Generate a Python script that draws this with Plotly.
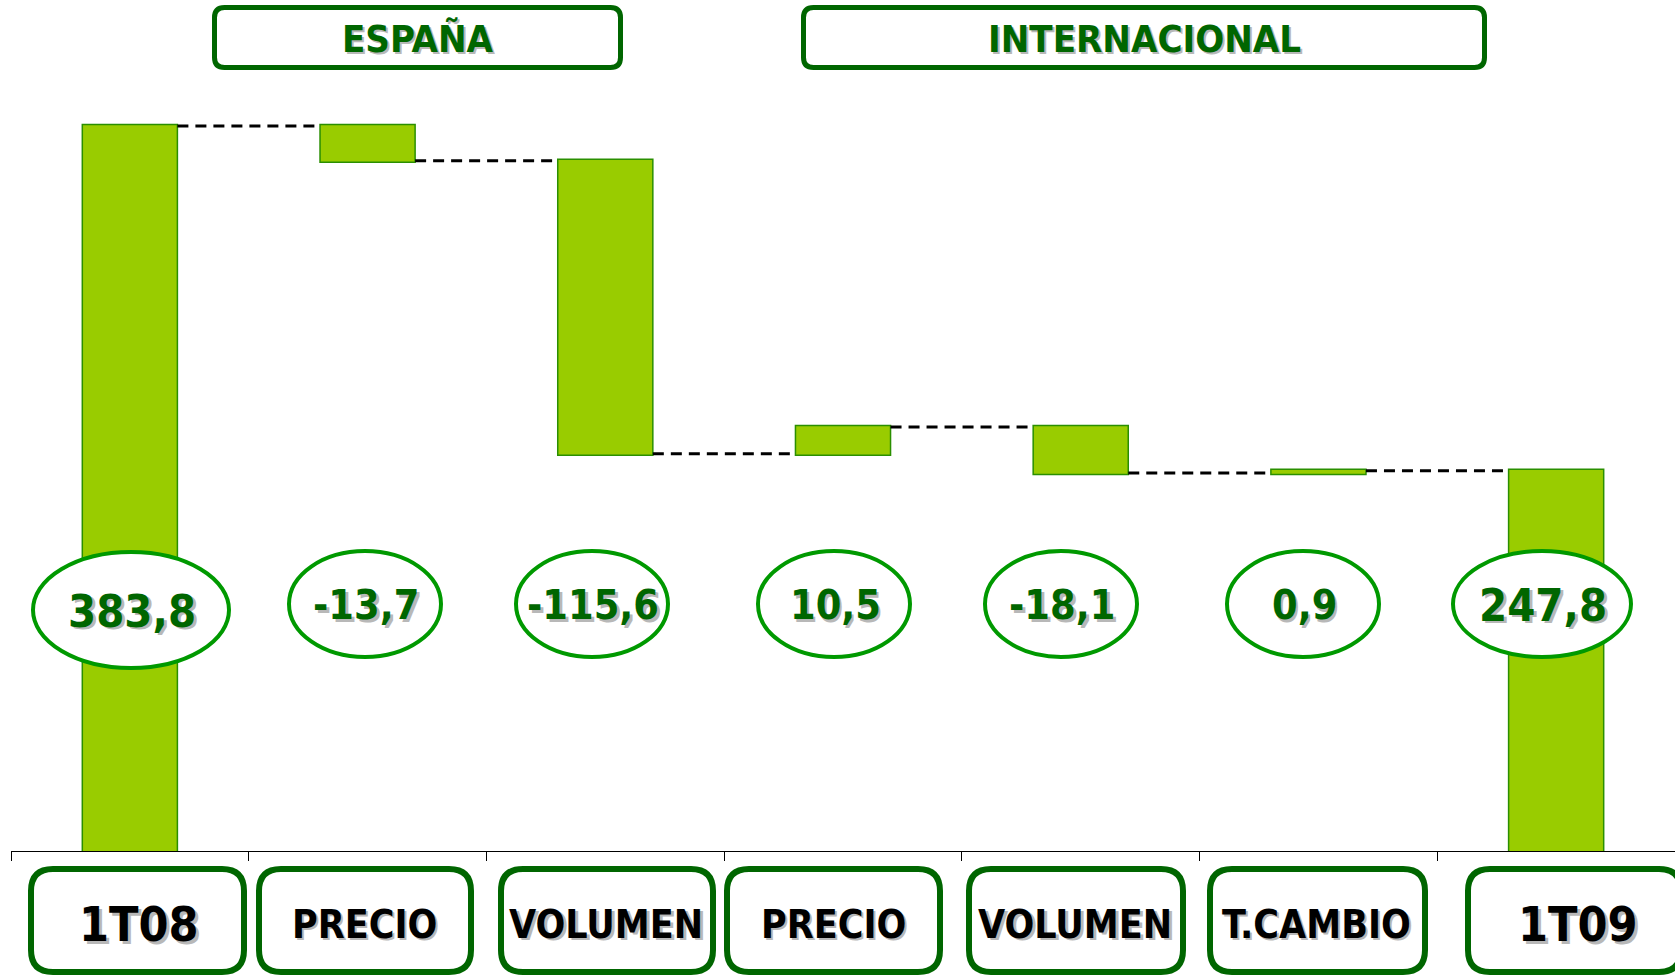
import plotly.graph_objects as go

# ---------------- data ----------------
categories = ["1T08", "PRECIO", "VOLUMEN", "PRECIO", "VOLUMEN", "T.CAMBIO", "1T09"]
values = [383.8, -13.7, -115.6, 10.5, -18.1, 0.9, 247.8]
measures = ["absolute", "relative", "relative", "relative", "relative", "relative", "total"]
group_titles = ["ESPAÑA", "INTERNACIONAL"]

value_labels = [f"{v:.1f}".replace(".", ",") for v in values]
positions = list(range(len(categories)))

# ---------------- layout geometry (pixels) ----------------
W, H = 1675, 976
ML, MR, MT, MB = 11, 0, 20, 125
PW, PH = W - ML - MR, H - MT - MB
BASE_VAL = 97.76
PX_PER_UNIT = 2.5346
Y_TOP = BASE_VAL + PH / PX_PER_UNIT


def xp(px):
    return (px - ML) / PW


def yp(py):
    return (H - MB - py) / PH


def rounded_rect(x0, y0, x1, y1, r):
    """rounded rectangle path in paper coords, given pixel box"""
    X0, X1 = xp(x0), xp(x1)
    Y0, Y1 = yp(y0), yp(y1)  # Y0 top (larger), Y1 bottom
    rx, ry = r / PW, r / PH
    return (
        f"M{X0 + rx},{Y0} L{X1 - rx},{Y0} Q{X1},{Y0} {X1},{Y0 - ry} "
        f"L{X1},{Y1 + ry} Q{X1},{Y1} {X1 - rx},{Y1} "
        f"L{X0 + rx},{Y1} Q{X0},{Y1} {X0},{Y1 + ry} "
        f"L{X0},{Y0 - ry} Q{X0},{Y0} {X0 + rx},{Y0} Z"
    )


FONT = "DejaVu Sans Condensed, DejaVu Sans, Arial Narrow, sans-serif"
DARK_GREEN = "#006600"
ELLIPSE_GREEN = "#009900"
BAR_FILL = "#99CC00"
BAR_LINE = "#2A8F00"

fig = go.Figure()
fig.add_trace(
    go.Waterfall(
        x=positions,
        y=values,
        measure=measures,
        increasing=dict(marker=dict(color=BAR_FILL, line=dict(color=BAR_LINE, width=1.5))),
        decreasing=dict(marker=dict(color=BAR_FILL, line=dict(color=BAR_LINE, width=1.5))),
        totals=dict(marker=dict(color=BAR_FILL, line=dict(color=BAR_LINE, width=1.5))),
        connector=dict(mode="between", line=dict(color="black", width=3, dash="11px,7px")),
        textinfo="none",
        hoverinfo="skip",
        showlegend=False,
    )
)

shapes = []
annotations = []


def add_text(text, cx, cy, size, color, shadow=True):
    if shadow:
        annotations.append(dict(
            x=xp(cx), y=yp(cy), xref="paper", yref="paper", text=text, showarrow=False,
            xanchor="center", yanchor="middle", xshift=2.5, yshift=-2.5,
            font=dict(family=FONT, size=size, color="#B8B8B8", weight="bold"),
        ))
    annotations.append(dict(
        x=xp(cx), y=yp(cy), xref="paper", yref="paper", text=text, showarrow=False,
        xanchor="center", yanchor="middle",
        font=dict(family=FONT, size=size, color=color, weight="bold"),
    ))


# top group boxes
top_boxes = [(212, 5, 623, 70), (801, 5, 1487, 70)]
for title, (x0, y0, x1, y1) in zip(group_titles, top_boxes):
    shapes.append(dict(type="path", xref="paper", yref="paper",
                       path=rounded_rect(x0 + 2.5, y0 + 2.5, x1 - 2.5, y1 - 2.5, 10),
                       line=dict(color=DARK_GREEN, width=5), fillcolor="white", layer="above"))
    add_text(title, (x0 + x1) / 2, 39, 38, DARK_GREEN)

# value ellipses
ellipses = [
    (131, 610, 100, 60),
    (365, 604, 78, 55),
    (592, 604, 78, 55),
    (834, 604, 78, 55),
    (1061, 604, 78, 55),
    (1303, 604, 78, 55),
    (1542, 604, 91, 55),
]
for i, (lab, (cx, cy, rx, ry)) in enumerate(zip(value_labels, ellipses)):
    shapes.append(dict(type="circle", xref="paper", yref="paper",
                       x0=xp(cx - rx + 2), x1=xp(cx + rx - 2), y0=yp(cy + ry - 2), y1=yp(cy - ry + 2),
                       line=dict(color=ELLIPSE_GREEN, width=4), fillcolor="white", layer="above"))
    size = 45 if i in (0, len(values) - 1) else 41
    add_text(lab, cx + 1, cy + 1, size, DARK_GREEN)

# bottom category boxes
bottom_boxes = [(28, 866, 247, 975), (256, 866, 474, 975), (498, 866, 716, 975),
                (724, 866, 943, 975), (966, 866, 1186, 975), (1207, 866, 1428, 975),
                (1465, 866, 1684, 975)]
text_cx = [139, 364, 606, 833, 1075, 1316, 1578]
for i, (cat, (x0, y0, x1, y1), tcx) in enumerate(zip(categories, bottom_boxes, text_cx)):
    shapes.append(dict(type="path", xref="paper", yref="paper",
                       path=rounded_rect(x0 + 3, y0 + 3, x1 - 3, y1 - 3, 22),
                       line=dict(color=DARK_GREEN, width=6), fillcolor="white", layer="above"))
    size = 48 if i in (0, len(categories) - 1) else 39
    add_text(cat, tcx, 924, size, "black")

fig.update_layout(
    width=W, height=H,
    margin=dict(l=ML, r=MR, t=MT, b=MB, pad=0),
    paper_bgcolor="white", plot_bgcolor="white",
    waterfallgap=0.6,
    xaxis=dict(range=[-0.5, len(categories) - 0.5], showgrid=False, zeroline=False,
               showline=True, linecolor="black", linewidth=1,
               ticks="outside", ticklen=9, tickcolor="black", tickwidth=1,
               tickvals=[p - 0.5 for p in positions] + [len(categories) - 0.5],
               showticklabels=False, fixedrange=True),
    yaxis=dict(range=[BASE_VAL, Y_TOP], visible=False, fixedrange=True),
    shapes=shapes,
    annotations=annotations,
)

fig.write_html("out.html", config={"displayModeBar": False},
               post_script="document.body.style.margin='0';document.body.style.overflow='hidden';")
